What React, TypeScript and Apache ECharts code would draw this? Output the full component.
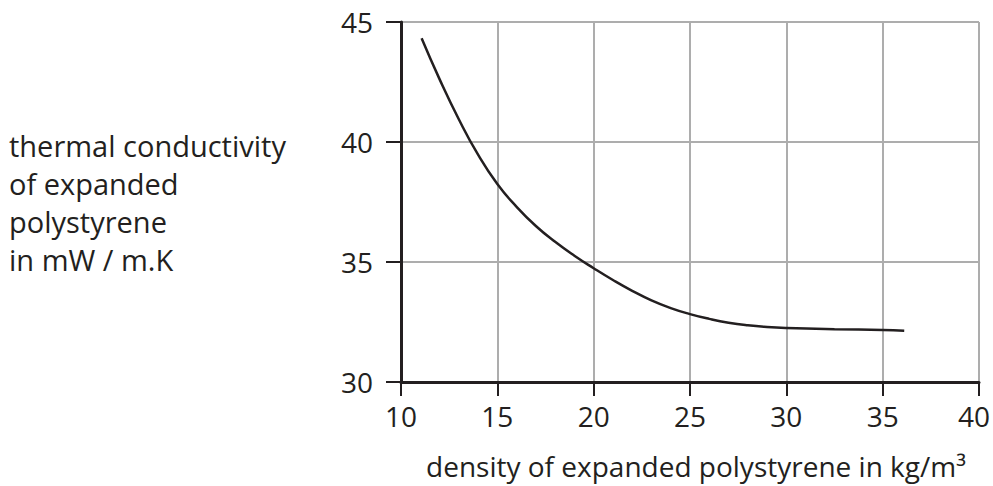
import React, { useEffect, useRef } from "react";
import * as echarts from "echarts";

const densityValues = [11.07, 12.0, 13.0, 14.0, 15.0, 16.0, 17.0, 18.0, 19.0, 20.0, 21.0, 22.0, 23.0, 24.0, 25.0, 26.0, 27.0, 28.0, 29.0, 30.0, 32.5, 35.0, 36.12];
const conductivityValues = [44.32, 42.62, 40.95, 39.47, 38.25, 37.3, 36.5, 35.84, 35.26, 34.74, 34.25, 33.8, 33.4, 33.08, 32.83, 32.63, 32.47, 32.36, 32.29, 32.25, 32.2, 32.17, 32.14];
const xTicks = [10, 15, 20, 25, 30, 35, 40];
const yTicks = [30, 35, 40, 45];
const yAxisTitle = ["thermal conductivity", "of expanded", "polystyrene", "in mW / m.K"];
const xAxisTitle = "density of expanded polystyrene in kg/m³";

const FONT = "'Open Sans', 'Noto Sans', sans-serif";
const INK = "#231f20";

export default function App() {
  const ref = useRef<HTMLDivElement>(null);
  useEffect(() => {
    if (!ref.current) return;
    document.body.style.margin = "0";
    const chart = echarts.init(ref.current, null, { renderer: "svg" });
    const data = densityValues.map((x, i) => [x, conductivityValues[i]]);
    const xMax = xTicks[xTicks.length - 1];
    chart.setOption({
      animation: false,
      backgroundColor: "#ffffff",
      grid: { left: 401, right: 12, top: 22, bottom: 104, containLabel: false },
      xAxis: {
        type: "value",
        min: xTicks[0],
        max: xMax,
        interval: 5,
        name: xAxisTitle,
        nameLocation: "middle",
        nameGap: 70,
        nameTextStyle: { fontFamily: FONT, fontSize: 28, color: INK, padding: [0, 0, 0, 12] },
        axisLine: { show: true, onZero: false, lineStyle: { color: INK, width: 3 } },
        axisTick: { show: true, length: 14, lineStyle: { color: INK, width: 2 } },
        axisLabel: {
          fontFamily: FONT,
          fontSize: 28,
          color: INK,
          margin: 20,
          formatter: (v: number) => (v === xMax ? `{last|${v}}` : `${v}`),
          rich: { last: { fontFamily: FONT, fontSize: 28, color: INK, padding: [0, 10, 0, 0] } },
        },
        splitLine: { show: true, lineStyle: { color: "#adadad", width: 2 } },
      },
      yAxis: {
        type: "value",
        min: yTicks[0],
        max: yTicks[yTicks.length - 1],
        interval: 5,
        axisLine: { show: true, onZero: false, lineStyle: { color: INK, width: 3 } },
        axisTick: { show: true, length: 15, lineStyle: { color: INK, width: 2 } },
        axisLabel: { fontFamily: FONT, fontSize: 28, color: INK, margin: 28 },
        splitLine: { show: true, lineStyle: { color: "#adadad", width: 2 } },
      },
      graphic: [
        {
          type: "text",
          left: 9,
          top: 126,
          style: {
            text: yAxisTitle.join("\n"),
            font: `29px ${FONT}`,
            fill: INK,
            lineHeight: 38,
          },
        },
      ],
      series: [
        {
          type: "line",
          data,
          smooth: 0.5,
          showSymbol: false,
          lineStyle: { color: INK, width: 2.5 },
          z: 5,
        },
      ],
    });
    return () => chart.dispose();
  }, []);
  return <div ref={ref} style={{ width: 993, height: 486 }} />;
}
